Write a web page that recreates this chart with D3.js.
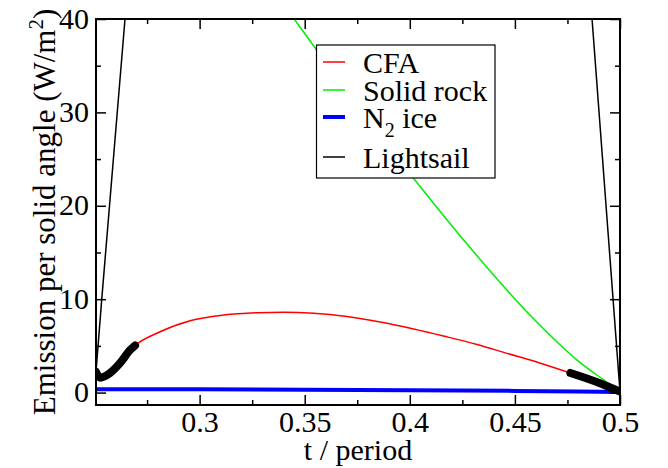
<!DOCTYPE html>
<html>
<head>
<meta charset="utf-8">
<script src="https://cdn.jsdelivr.net/npm/d3@7"></script>
</head>
<body style="margin:0">
<svg id="chart" width="668" height="468"></svg>
<script>
// CFA curve (t / period, emission)
const cfa = [
  [0.2507, 2.2], [0.2526, 1.6], [0.2574, 2.1], [0.2621, 3.15], [0.2669, 4.55],
  [0.2693, 5.05], [0.2796, 6.35], [0.2955, 7.7], [0.3113, 8.3], [0.3272, 8.55],
  [0.3400, 8.6], [0.3542, 8.5], [0.3700, 8.15], [0.3859, 7.55], [0.4018, 6.8],
  [0.4160, 6.05], [0.4320, 5.15], [0.4463, 4.2], [0.4621, 3.15], [0.4764, 2.1],
  [0.4905, 1.0], [0.5, 0.1]
];
// thick black parts drawn over the CFA curve
const cfaMarkedLeft = [
  [0.2507, 2.2], [0.2526, 1.6], [0.2574, 2.1], [0.2621, 3.15], [0.2669, 4.55], [0.2693, 5.05]
];
const cfaMarkedRight = [[0.4764, 2.1], [0.4905, 1.0], [0.5, 0.1]];

const solidRock = [
  [0.340, 41.6], [0.345, 40], [0.355, 36.9], [0.375, 30.6], [0.4026, 22.7],
  [0.4272, 15.9], [0.4589, 7.9], [0.4800, 3.4], [0.4939, 1.1], [0.5, 0.1]
];

const n2Ice = [
  [0.2507, 0.36], [0.30, 0.35], [0.35, 0.3], [0.40, 0.25], [0.45, 0.18], [0.48, 0.12], [0.5, 0.05]
];

const lightsail = [
  [0.2507, 2.2], [0.2534, 9.9], [0.2645, 40], [0.27, 55],
  [0.48, 58], [0.4867, 40], [0.5, 0.1]
];

const xMajor = [0.3, 0.35, 0.4, 0.45, 0.5];
const xMinor = [0.275, 0.325, 0.375, 0.425, 0.475];
const yMajor = [0, 10, 20, 30, 40];
const yMinor = [5, 15, 25, 35];

const legendItems = [
  { name: "CFA", color: "#ff0000", width: 1.5 },
  { name: "Solid rock", color: "#00ee00", width: 1.5 },
  { name: "N2 ice", color: "#0000ff", width: 4 },
  { name: "Lightsail", color: "#000000", width: 1.5 }
];

const width = 668, height = 468;
const margin = { left: 96, right: 48, top: 19, bottom: 63 };

const svg = d3.select("#chart");

const x = d3.scaleLinear().domain([0.2507, 0.5]).range([margin.left, width - margin.right]);
const y = d3.scaleLinear().domain([-1.33, 40]).range([height - margin.bottom, margin.top]);

svg.append("clipPath").attr("id", "clip")
  .append("rect")
  .attr("x", margin.left).attr("y", margin.top)
  .attr("width", x.range()[1] - x.range()[0])
  .attr("height", y.range()[0] - y.range()[1]);

const plot = svg.append("g").attr("clip-path", "url(#clip)");

const line = d3.line().x(d => x(d[0])).y(d => y(d[1]));
const smooth = d3.line().x(d => x(d[0])).y(d => y(d[1])).curve(d3.curveMonotoneX);

plot.append("path").datum(cfa).attr("d", smooth)
  .attr("fill", "none").attr("stroke", "#ff0000").attr("stroke-width", 1.5);
plot.append("path").datum(solidRock).attr("d", smooth)
  .attr("fill", "none").attr("stroke", "#00ee00").attr("stroke-width", 1.5);
plot.append("path").datum(n2Ice).attr("d", line)
  .attr("fill", "none").attr("stroke", "#0000ff").attr("stroke-width", 4);
plot.append("path").datum(lightsail).attr("d", line)
  .attr("fill", "none").attr("stroke", "#000").attr("stroke-width", 1.5);

[cfaMarkedLeft, cfaMarkedRight].forEach(seg => {
  plot.append("path").datum(seg).attr("d", smooth)
    .attr("fill", "none").attr("stroke", "#000").attr("stroke-width", 8)
    .attr("stroke-linecap", "round").attr("stroke-linejoin", "round");
});

// axes with inward ticks on all four sides
const x0 = x.range()[0], x1 = x.range()[1];
const y0 = y.range()[0], y1 = y.range()[1];

// drop the sans-serif that d3 puts on axis groups, keep the page default (serif)
const plain = g => g.attr("font-family", null).attr("font-size", null).select(".domain").remove();

svg.append("g").attr("transform", `translate(0,${y0})`)
  .call(d3.axisBottom(x).tickValues(xMajor).tickSizeInner(-10).tickSizeOuter(0).tickFormat(d3.format("")))
  .call(plain)
  .call(g => g.selectAll("text").attr("y", 27).attr("dy", 0).style("font-size", "30px").style("fill", "#000"));
svg.append("g").attr("transform", `translate(0,${y0})`)
  .call(d3.axisBottom(x).tickValues(xMinor).tickSize(-5).tickFormat(""))
  .call(plain);
svg.append("g").attr("transform", `translate(0,${y1})`)
  .call(d3.axisTop(x).tickValues(xMajor).tickSize(-10).tickFormat(""))
  .call(plain);
svg.append("g").attr("transform", `translate(0,${y1})`)
  .call(d3.axisTop(x).tickValues(xMinor).tickSize(-5).tickFormat(""))
  .call(plain);

svg.append("g").attr("transform", `translate(${x0},0)`)
  .call(d3.axisLeft(y).tickValues(yMajor).tickSizeInner(-10).tickSizeOuter(0))
  .call(plain)
  .call(g => g.selectAll("text").attr("x", -7).attr("dy", "0.3em").style("font-size", "30px").style("fill", "#000"));
svg.append("g").attr("transform", `translate(${x0},0)`)
  .call(d3.axisLeft(y).tickValues(yMinor).tickSize(-5).tickFormat(""))
  .call(plain);
svg.append("g").attr("transform", `translate(${x1},0)`)
  .call(d3.axisRight(y).tickValues(yMajor).tickSize(-10).tickFormat(""))
  .call(plain);
svg.append("g").attr("transform", `translate(${x1},0)`)
  .call(d3.axisRight(y).tickValues(yMinor).tickSize(-5).tickFormat(""))
  .call(plain);

svg.selectAll(".tick line").attr("stroke", "#000").attr("stroke-width", 1.5);

svg.append("rect")
  .attr("x", x0).attr("y", y1).attr("width", x1 - x0).attr("height", y0 - y1)
  .attr("fill", "none").attr("stroke", "#000").attr("stroke-width", 2);

// axis titles
svg.append("text")
  .attr("x", (x0 + x1) / 2).attr("y", 460)
  .attr("text-anchor", "middle").style("font-size", "30px")
  .text("t / period");

const yt = svg.append("text")
  .attr("transform", `translate(55,${(y0 + y1) / 2}) rotate(-90)`)
  .attr("text-anchor", "middle").style("font-size", "31px");
yt.append("tspan").text("Emission per solid angle (W/m");
yt.append("tspan").attr("dy", -12).style("font-size", "21px").text("2");
yt.append("tspan").attr("dy", 12).text(")");

// legend
const legend = svg.append("g");
legend.append("rect")
  .attr("x", 316.5).attr("y", 45).attr("width", 178.5).attr("height", 133)
  .attr("fill", "#fff").attr("stroke", "#000").attr("stroke-width", 1.2);

const rowY = [62, 90, 117, 157];
legendItems.forEach((d, i) => {
  legend.append("line")
    .attr("x1", 323).attr("x2", 345).attr("y1", rowY[i]).attr("y2", rowY[i])
    .attr("stroke", d.color).attr("stroke-width", d.width);
  const t = legend.append("text").attr("x", 363).attr("y", rowY[i] + 11)
    .style("font-size", "30px");
  if (d.name === "N2 ice") {
    t.append("tspan").text("N");
    t.append("tspan").attr("dy", 9).style("font-size", "20px").text("2");
    t.append("tspan").attr("dy", -9).text(" ice");
  } else {
    t.text(d.name);
  }
});
</script>
</body>
</html>
